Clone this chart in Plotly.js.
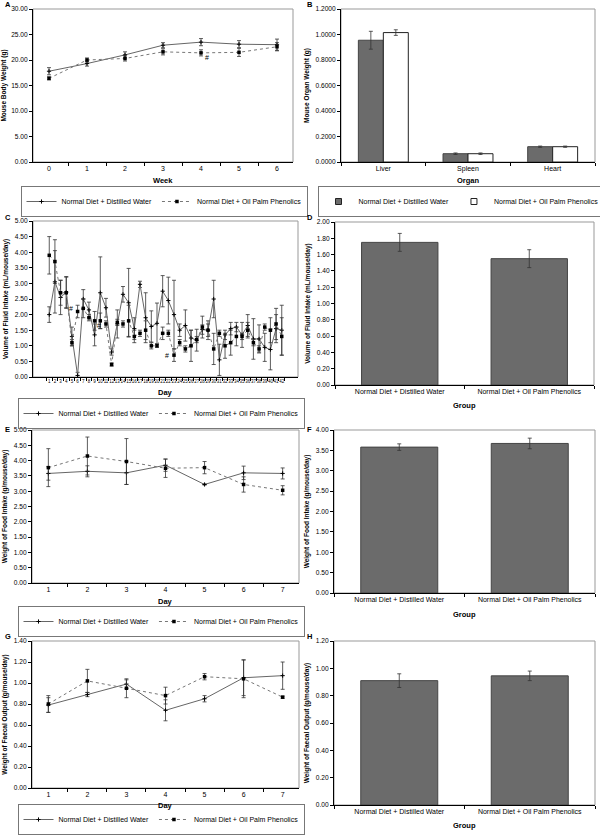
<!DOCTYPE html>
<html>
<head>
<meta charset="utf-8">
<script src="https://cdn.plot.ly/plotly-3.0.1.min.js"></script>
<style>
  html, body { margin: 0; padding: 0; background: #fff; }
  #chart { width: 600px; height: 836px; }
</style>
</head>
<body>
<div id="chart"></div>
<script>
const W = 600, H = 836;
const dwName = "Normal Diet + Distilled Water";
const oppName = "Normal Diet + Oil Palm Phenolics";

// A: body weight
const weeks = ["0", "1", "2", "3", "4", "5", "6"];
const bwDW = [17.8, 19.3, 21.0, 22.9, 23.5, 23.1, 23.0];
const bwDWerr = [0.7, 0.5, 0.6, 0.5, 0.7, 0.7, 1.1];
const bwOPP = [16.4, 20.0, 20.3, 21.6, 21.4, 21.5, 22.6];
const bwOPPerr = [0.3, 0.4, 0.5, 0.6, 0.6, 0.8, 0.8];

// B: organ weight
const organs = ["Liver", "Spleen", "Heart"];
const organDW = [0.955, 0.065, 0.12];
const organDWerr = [0.07, 0.006, 0.005];
const organOPP = [1.015, 0.065, 0.12];
const organOPPerr = [0.022, 0.006, 0.005];

// C: daily fluid intake
const days42 = ["1","2","3","4","5","6","7","8","9","10","11","12","13","14",
  "15","16","17","18","19","20","21","22","23","24","25","26","27","28",
  "29","30","31","32","33","34","35","36","37","38","39","40","41","42"];
const fluidDW = [2.0, 3.05, 2.55, 2.72, 1.3, 0.05, 2.5, 2.15, 1.35, 2.7, 2.22, 0.8, 1.7, 2.65,
  2.38, 1.55, 2.97, 1.9, 1.62, 1.72, 2.75, 2.45, 2.0, 1.5, 1.65, 1.25, 1.18, 1.52,
  1.5, 2.5, 0.55, 1.35, 1.55, 1.6, 1.35, 1.65, 1.22, 1.22, 0.95, 0.88, 1.55, 1.5];
const fluidDWerr = [0.25, 1.0, 0.55, 0.5, 0.3, 0.1, 0.3, 0.25, 0.35, 1.15, 0.3, 0.1, 0.45, 0.25,
  1.1, 0.35, 0.1, 0.8, 0.5, 0.65, 0.5, 0.75, 1.1, 0.2, 0.5, 0.25, 0.35, 0.15,
  0.3, 0.6, 0.5, 0.15, 0.2, 0.15, 0.4, 0.35, 0.65, 0.45, 0.45, 0.65, 0.45, 0.8];
const fluidOPP = [3.9, 3.7, 2.7, 2.7, 1.1, 2.1, 2.2, 1.9, 1.8, 1.8, 1.7, 0.4, 1.75, 1.7,
  1.8, 1.3, 1.4, 1.5, 1.0, 1.0, 1.4, 1.4, 0.7, 1.1, 0.9, 1.0, 1.2, 1.6,
  1.5, 0.9, 1.4, 1.0, 1.1, 1.3, 1.3, 1.5, 1.1, 0.9, 1.6, 1.5, 1.7, 1.3];
const fluidOPPerr = [0.6, 0.7, 0.4, 0.5, 0.1, 0.2, 0.3, 0.1, 0.3, 0.25, 0.1, 0.05, 0.1, 0.1,
  0.5, 0.2, 0.1, 0.3, 0.1, 0.05, 0.2, 0.1, 0.2, 0.1, 0.1, 0.5, 0.1, 0.35,
  0.2, 0.5, 0.1, 0.4, 0.4, 0.3, 0.1, 0.25, 0.1, 0.1, 0.1, 0.4, 0.5, 0.6];

// D, F, H: group means
const groups = [dwName, oppName];
const fluidMean = [1.75, 1.55];
const fluidMeanErr = [0.11, 0.11];

// E: food intake
const days7 = ["1", "2", "3", "4", "5", "6", "7"];
const foodDW = [3.58, 3.65, 3.6, 3.85, 3.22, 3.6, 3.58];
const foodDWerr = [0.22, 0.18, 0.38, 0.2, 0.02, 0.22, 0.18];
const foodOPP = [3.77, 4.15, 3.97, 3.75, 3.77, 3.22, 3.03];
const foodOPPerr = [0.62, 0.62, 0.75, 0.3, 0.2, 0.25, 0.15];
const foodMean = [3.58, 3.67];
const foodMeanErr = [0.08, 0.13];

// G: faecal output
const faecalDW = [0.79, 0.89, 0.99, 0.74, 0.85, 1.05, 1.07];
const faecalDWerr = [0.07, 0.02, 0.04, 0.1, 0.03, 0.17, 0.13];
const faecalOPP = [0.8, 1.02, 0.95, 0.88, 1.06, 1.04, 0.865];
const faecalOPPerr = [0.08, 0.11, 0.09, 0.08, 0.03, 0.18, 0.01];
const faecalMean = [0.91, 0.945];
const faecalMeanErr = [0.05, 0.035];

const FONT = "Liberation Sans, Arial, sans-serif";
const barColor = "#6b6b6b";

function domX(a, b) { return [a / W, b / W]; }
function domY(top, bottom) { return [1 - bottom / H, 1 - top / H]; }

function errBar(arr) {
  return { type: "data", array: arr, visible: true, color: "#333", thickness: 0.8, width: 2 };
}

function lineTraces(x, dw, dwErr, opp, oppErr, n, lg) {
  return [
    {
      x: x, y: dw, xaxis: "x" + n, yaxis: "y" + n, name: dwName, legend: lg,
      type: "scatter", mode: "lines+markers",
      line: { color: "#666", width: 1 },
      marker: { symbol: "cross-thin", size: 3, color: "#000", line: { color: "#000", width: 1 } },
      error_y: errBar(dwErr)
    },
    {
      x: x, y: opp, xaxis: "x" + n, yaxis: "y" + n, name: oppName, legend: lg,
      type: "scatter", mode: "lines+markers",
      line: { color: "#777", width: 1, dash: "dot" },
      marker: { symbol: "square", size: 3.5, color: "#000" },
      error_y: errBar(oppErr)
    }
  ];
}

function meanTrace(y, err, n) {
  return {
    x: groups, y: y, xaxis: "x" + n, yaxis: "y" + n, type: "bar", showlegend: false,
    marker: { color: barColor, line: { color: "#444", width: 1 } },
    error_y: errBar(err)
  };
}

// legend-only entries for panel B, so the key shows small squares like the original
function keySquare(name, fill) {
  return {
    x: [null], y: [null], xaxis: "x2", yaxis: "y2", type: "scatter", mode: "markers",
    name: name, legend: "legend2",
    marker: { symbol: "square", size: 6, color: fill, line: { color: "#222", width: 1 } }
  };
}

const data = [
  ...lineTraces(weeks, bwDW, bwDWerr, bwOPP, bwOPPerr, "", "legend"),
  {
    x: organs, y: organDW, xaxis: "x2", yaxis: "y2", type: "bar", name: dwName, showlegend: false,
    marker: { color: barColor, line: { color: "#444", width: 1 } }, error_y: errBar(organDWerr)
  },
  {
    x: organs, y: organOPP, xaxis: "x2", yaxis: "y2", type: "bar", name: oppName, showlegend: false,
    marker: { color: "#fff", line: { color: "#222", width: 1 } }, error_y: errBar(organOPPerr)
  },
  keySquare(dwName, barColor),
  keySquare(oppName, "#fff"),
  ...lineTraces(days42, fluidDW, fluidDWerr, fluidOPP, fluidOPPerr, "3", "legend3"),
  meanTrace(fluidMean, fluidMeanErr, "4"),
  ...lineTraces(days7, foodDW, foodDWerr, foodOPP, foodOPPerr, "5", "legend5"),
  meanTrace(foodMean, foodMeanErr, "6"),
  ...lineTraces(days7, faecalDW, faecalDWerr, faecalOPP, faecalOPPerr, "7", "legend7"),
  meanTrace(faecalMean, faecalMeanErr, "8")
];

function xAxis(dom, yId, tickSize) {
  return {
    domain: dom, anchor: yId, type: "category", tickson: "boundaries", dtick: 1,
    ticks: "outside", ticklen: 3, tickcolor: "#000", showline: true, linecolor: "#000", linewidth: 1,
    showgrid: false, zeroline: false, tickangle: 0, fixedrange: true, automargin: false,
    tickfont: { size: tickSize || 7, color: "#000" }
  };
}
function yAxis(dom, range, dtick, fmt, title, xId) {
  return {
    domain: dom, anchor: xId, range: range, dtick: dtick, tickformat: fmt,
    ticks: "outside", ticklen: 3, tickcolor: "#000", showline: true, linecolor: "#000", linewidth: 1,
    showgrid: false, zeroline: false, fixedrange: true, automargin: false,
    tickfont: { size: 6.6, color: "#000" },
    title: { text: "<b>" + title + "</b>", font: { size: 6.5, color: "#000" }, standoff: 5 }
  };
}
// boxed horizontal legend, centred under its panel
function legendAt(cx, y, anchor) {
  return {
    x: cx / W, y: 1 - y / H, xanchor: "center", yanchor: anchor || "top", orientation: "h",
    bordercolor: "#777", borderwidth: 1, font: { size: 7, color: "#000" },
    itemwidth: 30, tracegroupgap: 0, bgcolor: "rgba(255,255,255,0)"
  };
}

const boxes = [
  ["", 33, 293, 9, 162], ["2", 341, 595, 9, 162],
  ["3", 33, 298, 221, 377], ["4", 335, 594, 222, 385],
  ["5", 32, 299, 430, 583], ["6", 334, 595, 430, 593],
  ["7", 32, 299, 641, 788], ["8", 334, 595, 641, 805]
];

const shapes = boxes.map(b => ({
  type: "rect", xref: "x" + b[0] + " domain", yref: "y" + b[0] + " domain",
  x0: 0, x1: 1, y0: 0, y1: 1, line: { color: "#999", width: 1 }, layer: "below"
}));

function paperText(text, px, py, size, anchor) {
  return {
    text: text, xref: "paper", yref: "paper", x: px / W, y: 1 - py / H,
    xanchor: anchor, yanchor: "middle", showarrow: false, font: { size: size, color: "#000" }
  };
}

const letters = [["A", 3, 5], ["B", 305, 5], ["C", 3, 218], ["D", 305, 218],
  ["E", 3, 429], ["F", 305, 429], ["G", 3, 636], ["H", 305, 636]];
const xTitles = [["Week", 163, 180], ["Organ", 468, 181], ["Day", 165, 392], ["Group", 464, 405],
  ["Day", 165, 601], ["Group", 464, 614], ["Day", 165, 805], ["Group", 464, 825]];

const annotations = letters.map(l => paperText("<b>" + l[0] + "</b>", l[1], l[2], 7.5, "left"))
  .concat(xTitles.map(t => paperText("<b>" + t[0] + "</b>", t[1], t[2], 7.5, "center")));

// significance marks
[["x", "y", 4, bwOPP[4] - 1.0, 6],
 ["x3", "y3", 5, fluidOPP[5] + 0.08, -7],
 ["x3", "y3", 10, fluidOPP[10] - 0.05, -7],
 ["x3", "y3", 22, fluidOPP[22] - 0.02, -7]].forEach(s => {
  annotations.push({
    text: "#", xref: s[0], yref: s[1], x: s[2], y: s[3], xshift: s[4],
    showarrow: false, font: { size: 7, color: "#000" }
  });
});

const layout = {
  width: W, height: H, margin: { l: 0, r: 0, t: 0, b: 0, autoexpand: false },
  paper_bgcolor: "#fff", plot_bgcolor: "#fff",
  font: { family: FONT, color: "#000" },
  bargap: 0.41, bargroupgap: 0,
  xaxis: xAxis(domX(33, 293), "y"),
  yaxis: yAxis(domY(9, 162), [0, 30], 5, ".2f", "Mouse Body Weight (g)", "x"),
  xaxis2: xAxis(domX(341, 595), "y2"),
  yaxis2: yAxis(domY(9, 162), [0, 1.2], 0.2, ".4f", "Mouse Organ Weight (g)", "x2"),
  xaxis3: xAxis(domX(33, 298), "y3", 4.5),
  yaxis3: yAxis(domY(221, 377), [0, 5], 0.5, ".2f", "Volume of Fluid Intake (mL/mouse/day)", "x3"),
  xaxis4: xAxis(domX(335, 594), "y4"),
  yaxis4: yAxis(domY(222, 385), [0, 2], 0.2, ".2f", "Volume of Fluid Intake (mL/mouse/day)", "x4"),
  xaxis5: xAxis(domX(32, 299), "y5"),
  yaxis5: yAxis(domY(430, 583), [0, 5], 0.5, ".2f", "Weight of Food Intake (g/mouse/day)", "x5"),
  xaxis6: xAxis(domX(334, 595), "y6"),
  yaxis6: yAxis(domY(430, 593), [0, 4], 0.5, ".2f", "Weight of Food Intake (g/mouse/day)", "x6"),
  xaxis7: xAxis(domX(32, 299), "y7"),
  yaxis7: yAxis(domY(641, 788), [0, 1.4], 0.2, ".2f", "Weight of Faecal Output (g/mouse/day)", "x7"),
  xaxis8: xAxis(domX(334, 595), "y8"),
  yaxis8: yAxis(domY(641, 805), [0, 1.2], 0.2, ".2f", "Weight of Faecal Output (g/mouse/day)", "x8"),
  legend: legendAt(164, 186),
  legend2: legendAt(461, 186),
  legend3: legendAt(161, 398),
  legend5: legendAt(161, 606),
  legend7: legendAt(161, 835, "bottom"),
  shapes: shapes,
  annotations: annotations
};

Plotly.newPlot("chart", data, layout, { displayModeBar: false, staticPlot: true });
</script>
</body>
</html>
